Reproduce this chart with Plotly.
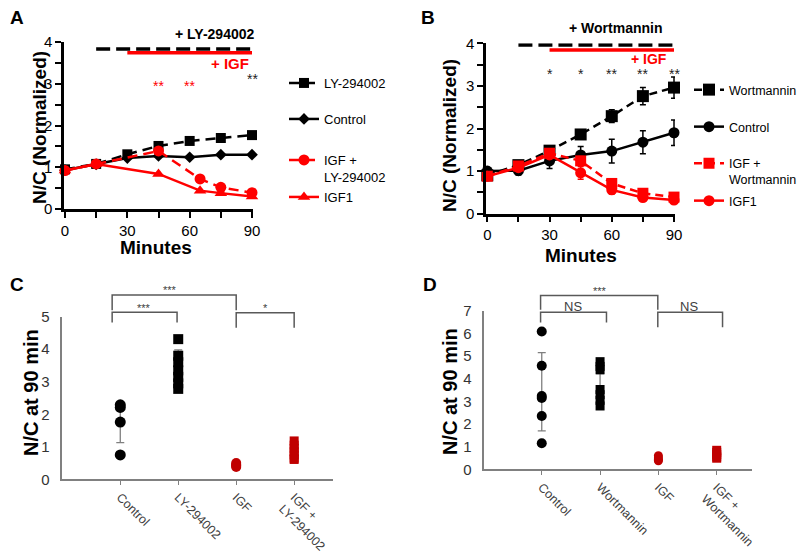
import plotly.graph_objects as go

W, H = 805, 552
PAGE_MARGIN = 8  # default <body> margin of the written page
FONT = "Liberation Sans, Arial, sans-serif"
RED = "#ff0000"
DARKRED = "#c00000"

# ---- panel A: LY-294002 time course ----
minutes = [0, 15, 30, 45, 60, 75, 90]
a_ly = [0.95, 1.08, 1.31, 1.51, 1.63, 1.70, 1.77]
a_ly_err = [0.02, 0.03, 0.04, 0.05, 0.05, 0.08, 0.07]
a_ctrl = [0.93, 1.07, 1.22, 1.27, 1.24, 1.30, 1.30]
a_red_minutes = [0, 15, 45, 65, 75, 90]
a_igf_ly = [0.92, 1.08, 1.39, 0.72, 0.52, 0.39]
a_igf = [0.92, 1.08, 0.84, 0.44, 0.38, 0.30]
a_stars = [(45, 2.95, "**", RED), (60, 2.95, "**", RED), (90, 3.12, "**", "#222222")]

# ---- panel B: Wortmannin time course ----
b_wort = [0.90, 1.14, 1.48, 1.86, 2.29, 2.76, 2.96]
b_wort_err = [0.05, 0.08, 0.08, 0.08, 0.15, 0.20, 0.25]
b_ctrl = [1.00, 1.01, 1.24, 1.38, 1.47, 1.68, 1.90]
b_ctrl_err = [0.05, 0.10, 0.18, 0.20, 0.28, 0.27, 0.30]
b_igf_w = [0.88, 1.12, 1.42, 1.24, 0.71, 0.48, 0.39]
b_igf_w_err = [0.05, 0.05, 0.05, 0.10, 0.10, 0.05, 0.05]
b_igf = [0.88, 1.08, 1.38, 0.96, 0.56, 0.38, 0.32]
b_igf_err = [0.05, 0.05, 0.05, 0.15, 0.10, 0.05, 0.05]
b_stars = [(30, "*"), (45, "*"), (60, "**"), (75, "**"), (90, "**")]

# treatment windows (minutes)
drug_start, igf_start, end_min = 15, 30, 90

# ---- panel C: N/C at 90 min, LY-294002 ----
c_cats = ["Control", "LY-294002", "IGF", "IGF +<br>LY-294002"]
c_ctrl = [2.29, 2.21, 1.76, 0.75]
c_ly = [4.31, 3.80, 3.60, 3.35, 3.15, 2.95, 2.78]
c_igf = [0.38, 0.42, 0.45, 0.50]
c_igf_ly = [1.18, 1.05, 0.95, 0.85, 0.75, 0.65, 0.61]
c_mean = [1.72, 3.50, 0.44, 0.88]
c_sd = [0.59, 0.48, 0.05, 0.20]

# ---- panel D: N/C at 90 min, Wortmannin ----
d_cats = ["Control", "Wortmannin", "IGF", "IGF +<br>Wortmannin"]
d_ctrl = [6.09, 4.58, 3.24, 3.15, 2.36, 1.15]
d_wort = [4.76, 4.55, 4.40, 3.53, 3.30, 3.05, 2.80]
d_igf = [0.60, 0.50, 0.42, 0.38]
d_igf_w = [0.84, 0.75, 0.65, 0.55, 0.49]
d_mean = [3.43, 3.63, 0.48, 0.66]
d_sd = [1.73, 0.60, 0.10, 0.14]

# brackets: x0, x1, top, left leg bottom, right leg bottom, label, label x, label y
c_brackets = [
    (-0.14, 2.0, 5.67, 5.2, 5.2, "***", 0.86, 5.82),
    (-0.14, 0.98, 5.14, 4.82, 4.82, "***", 0.41, 5.28),
    (2.0, 3.0, 5.12, 4.66, 4.66, "*", 2.51, 5.26),
]
d_brackets = [
    (-0.02, 1.99, 7.68, 7.05, 7.05, "***", 1.0, 7.9),
    (-0.02, 1.11, 6.95, 6.49, 6.49, "NS", 0.54, 7.2),
    (1.99, 3.10, 6.95, 6.28, 6.28, "NS", 2.53, 7.2),
]


def px_x(v):
    return (v - PAGE_MARGIN) / W


def px_y(v):
    return 1 - (v - PAGE_MARGIN) / H


fig = go.Figure()


def line_trace(x, y, err, name, color, dash, symbol, size, xa, ya, legend):
    return go.Scatter(
        x=x, y=y, name=name, mode="lines+markers", xaxis=xa, yaxis=ya,
        line=dict(color=color, width=2.5, dash=dash),
        marker=dict(symbol=symbol, size=size, color=color),
        error_y=dict(type="data", array=err, visible=err is not None,
                     color=color, thickness=1.5, width=3),
        cliponaxis=False, legend=legend,
    )


# panel A traces
fig.add_trace(line_trace(minutes, a_ly, a_ly_err, "LY-294002", "black", "10px,6px",
                         "square", 10, "x", "y", "legend"))
fig.add_trace(line_trace(minutes, a_ctrl, None, "Control", "black", "solid",
                         "diamond", 9, "x", "y", "legend2"))
fig.add_trace(line_trace(a_red_minutes, a_igf_ly, None, "IGF +<br>LY-294002", RED, "10px,6px",
                         "circle", 11, "x", "y", "legend3"))
fig.add_trace(line_trace(a_red_minutes, a_igf, None, "IGF1", RED, "solid",
                         "triangle-up", 11, "x", "y", "legend4"))

# panel B traces
fig.add_trace(line_trace(minutes, b_wort, b_wort_err, "Wortmannin", "black", "8px,5px",
                         "square", 12, "x2", "y2", "legend5"))
fig.add_trace(line_trace(minutes, b_ctrl, b_ctrl_err, "Control", "black", "solid",
                         "circle", 11, "x2", "y2", "legend6"))
fig.add_trace(line_trace(minutes, b_igf_w, b_igf_w_err, "IGF +<br>Wortmannin", RED, "8px,5px",
                         "square", 11, "x2", "y2", "legend7"))
fig.add_trace(line_trace(minutes, b_igf, b_igf_err, "IGF1", RED, "solid",
                         "circle", 11, "x2", "y2", "legend8"))


def dot_panel(groups, means, sds, xa, ya):
    fig.add_trace(go.Scatter(
        x=list(range(len(means))), y=means, mode="markers", xaxis=xa, yaxis=ya,
        marker=dict(size=1, color="rgba(0,0,0,0)"), showlegend=False,
        error_y=dict(type="data", array=sds, color="#7f7f7f", thickness=1.3, width=4),
    ))
    for i, (vals, color, symbol, size) in enumerate(groups):
        fig.add_trace(go.Scatter(
            x=[i] * len(vals), y=vals, mode="markers", xaxis=xa, yaxis=ya,
            marker=dict(symbol=symbol, size=size, color=color), showlegend=False,
            cliponaxis=False,
        ))


dot_panel([(c_ctrl, "black", "circle", 11), (c_ly, "black", "square", 10),
           (c_igf, DARKRED, "circle", 10), (c_igf_ly, DARKRED, "square", 9)],
          c_mean, c_sd, "x3", "y3")
dot_panel([(d_ctrl, "black", "circle", 10), (d_wort, "black", "square", 9),
           (d_igf, DARKRED, "circle", 9), (d_igf_w, DARKRED, "square", 9)],
          d_mean, d_sd, "x4", "y4")

shapes = []
annotations = []


def note(text, x, y, size, color="black", xanchor="center", angle=0):
    annotations.append(dict(text=text, x=px_x(x), y=px_y(y), xref="paper", yref="paper",
                            xanchor=xanchor, yanchor="middle", showarrow=False, textangle=angle,
                            font=dict(size=size, color=color, family=FONT)))


# treatment bars above the time courses
for xa, ya, yb, yr in [("x", "y", 3.83, 3.74), ("x2", "y2", 3.96, 3.84)]:
    shapes.append(dict(type="line", xref=xa, yref=ya, x0=drug_start, x1=end_min, y0=yb, y1=yb,
                       line=dict(color="black", width=3.5, dash="14px,6px")))
    shapes.append(dict(type="line", xref=xa, yref=ya, x0=igf_start, x1=end_min, y0=yr, y1=yr,
                       line=dict(color=RED, width=3.5)))

note("<b>+ LY-294002</b>", 256, 34, 14, xanchor="right")
note("<b>+ IGF</b>", 251, 63, 15, RED, xanchor="right")
note("<b>+ Wortmannin</b>", 664, 28, 14, xanchor="right")
note("<b>+ IGF</b>", 669, 59, 14, RED, xanchor="right")

for xm, yv, s, col in a_stars:
    annotations.append(dict(text=s, x=xm, y=yv, xref="x", yref="y", showarrow=False,
                            xanchor="center", yanchor="middle",
                            font=dict(size=14, color=col, family=FONT)))
for xm, s in b_stars:
    annotations.append(dict(text=s, x=xm, y=3.28, xref="x2", yref="y2", showarrow=False,
                            xanchor="center", yanchor="middle",
                            font=dict(size=14, color="#222222", family=FONT)))


def brackets(items, xa, ya, ymax):
    for x0, x1, top, b0, b1, label, lx, ly in items:
        path = "M{},{} L{},{} L{},{} L{},{}".format(x0, b0 / ymax, x0, top / ymax,
                                                    x1, top / ymax, x1, b1 / ymax)
        shapes.append(dict(type="path", xref=xa, yref=ya + " domain", path=path,
                           line=dict(color="#595959", width=1.5)))
        size = 13 if label == "NS" else 11
        annotations.append(dict(text=label, x=lx, y=ly / ymax, xref=xa, yref=ya + " domain",
                                xanchor="center", yanchor="middle", showarrow=False,
                                font=dict(size=size, color="#404040", family=FONT)))


brackets(c_brackets, "x3", "y3", 5)
brackets(d_brackets, "x4", "y4", 7)

# panel letters and axis titles
for letter, x, y in [("A", 8, 18), ("B", 419, 18), ("C", 8, 284), ("D", 421, 284)]:
    note("<b>%s</b>" % letter, x, y, 19, xanchor="left")
note("<b>N/C (Normalized)</b>", 40, 128, 19, angle=-90)
note("<b>N/C (Normalized)</b>", 449, 135, 19, angle=-90)
note("<b>Minutes</b>", 156, 248, 19)
note("<b>Minutes</b>", 581, 255, 19)
note("<b>N/C at 90 min</b>", 31, 393, 20, angle=-90)
note("<b>N/C at 90 min</b>", 450, 392, 20, angle=-90)

time_x = dict(showline=True, linecolor="black", linewidth=2.5, ticks="outside", ticklen=6,
              tickwidth=2, tickcolor="black", tickvals=[0, 30, 60, 90], automargin=False,
              minor=dict(dtick=15, ticks="outside", ticklen=6, tickwidth=2, tickcolor="black"),
              showgrid=False, zeroline=False, tickfont=dict(size=15, family=FONT, color="black"))
time_y = dict(range=[0, 4], showline=True, linecolor="black", linewidth=2.5, ticks="outside",
              ticklen=6, tickwidth=2, tickcolor="black", dtick=1, automargin=False,
              minor=dict(dtick=0.5, ticks="outside", ticklen=6, tickwidth=2, tickcolor="black"),
              showgrid=False, zeroline=False, tickfont=dict(size=15, family=FONT, color="black"))
dot_x = dict(showline=True, linecolor="#808080", linewidth=1.5, ticks="outside", ticklen=4,
             tickwidth=1, tickcolor="#808080", tickangle=45, showgrid=False, zeroline=False,
             automargin=False, tickfont=dict(size=12.5, family=FONT, color="#404040"))
dot_y = dict(showline=True, linecolor="#808080", linewidth=1.5, ticks="", dtick=1,
             showgrid=False, zeroline=False, ticklabelstandoff=8, automargin=False,
             tickfont=dict(size=15, family=FONT, color="#333333"))


def leg(x, y, size=13):
    return dict(x=px_x(x - 5), y=px_y(y), xanchor="left", yanchor="middle",
                bgcolor="rgba(0,0,0,0)", valign="top",
                font=dict(size=size, family=FONT, color="black"))


fig.update_layout(
    width=W, height=H, margin=dict(l=0, r=0, t=0, b=0, autoexpand=False),
    paper_bgcolor="white", plot_bgcolor="white",
    font=dict(family=FONT),
    xaxis=dict(time_x, domain=[px_x(64), px_x(253)], range=[-0.48, 90.48], anchor="y"),
    yaxis=dict(time_y, domain=[px_y(209), px_y(42)], anchor="x"),
    xaxis2=dict(time_x, domain=[px_x(486), px_x(675)], range=[-0.63, 90.48], anchor="y2"),
    yaxis2=dict(time_y, domain=[px_y(213.7), px_y(43.3)], anchor="x2"),
    xaxis3=dict(dot_x, domain=[px_x(62.3), px_x(333)], range=[-1.0, 3.67], anchor="y3",
                tickvals=list(range(len(c_cats))), ticktext=c_cats),
    yaxis3=dict(dot_y, domain=[px_y(479.3), px_y(316.7)], range=[0, 5], anchor="x3"),
    xaxis4=dict(dot_x, domain=[px_x(484.3), px_x(751.7)], range=[-0.985, 3.6], anchor="y4",
                tickvals=list(range(len(d_cats))), ticktext=d_cats),
    yaxis4=dict(dot_y, domain=[px_y(469.3), px_y(311)], range=[0, 7], anchor="x4"),
    legend=leg(289, 83), legend2=leg(289, 119), legend3=leg(289, 168.5), legend4=leg(289, 197),
    legend5=leg(694, 90, 12.5), legend6=leg(694, 127, 12.5),
    legend7=leg(694, 171.5, 12.5), legend8=leg(694, 201, 12.5),
    shapes=shapes, annotations=annotations,
)

fig.write_html("out.html")
